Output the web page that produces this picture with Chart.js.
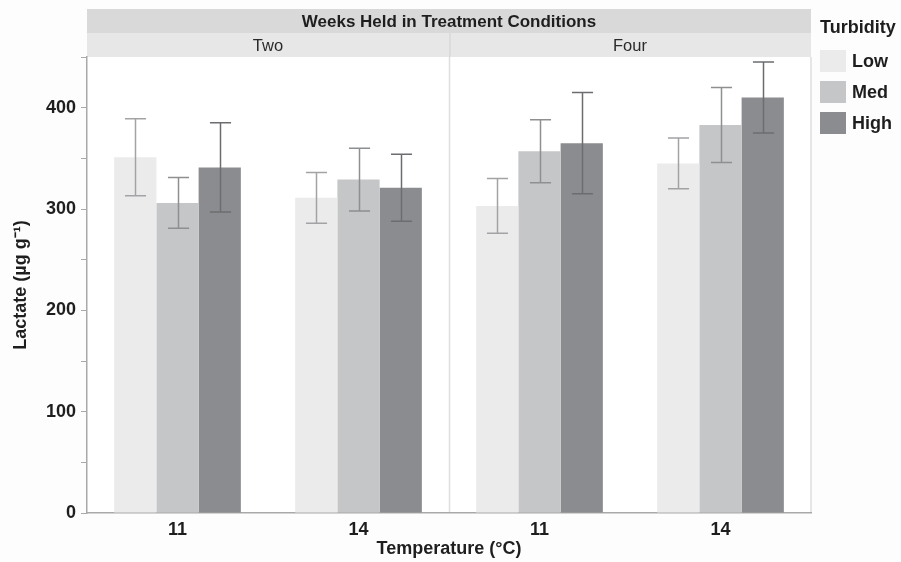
<!DOCTYPE html>
<html>
<head>
<meta charset="utf-8">
<script src="https://cdn.jsdelivr.net/npm/chart.js@4"></script>
<style>
  body { margin: 0; background: #fdfdfd; }
  canvas { display: block; }
</style>
</head>
<body>
<canvas id="chart" width="901" height="562"></canvas>
<script>
// temperature categories, two per facet
const categories = ["11", "14", "11", "14"];
const weeks = ["Two", "Four"];
const turbidity = ["Low", "Med", "High"];

const lowMean = [351, 311, 303, 345];
const lowErr = [38, 25, 27, 25];
const medMean = [306, 329, 357, 383];
const medErr = [25, 31, 31, 37];
const highMean = [341, 321, 365, 410];
const highErr = [44, 33, 50, 35];

const barColors = ["#ebebec", "#c5c6c8", "#8b8c8f"];
const errColors = ["#a3a3a5", "#8e8f91", "#6c6d70"];

const font = "'Liberation Sans', Arial, sans-serif";

const errs = [lowErr, medErr, highErr];

// strips on top, panel divider and legend
const facetPlugin = {
  id: "facets",
  beforeDraw(chart) {
    const { ctx, chartArea: a, scales } = chart;
    ctx.save();
    ctx.fillStyle = "#ffffff";
    ctx.fillRect(a.left, a.top, a.right - a.left, a.bottom - a.top);
    const mid = (scales.x.getPixelForValue(1) + scales.x.getPixelForValue(2)) / 2;

    // outer strip
    ctx.fillStyle = "#d9d9da";
    ctx.fillRect(a.left, a.top - 48, a.right - a.left, 24);
    ctx.fillStyle = "#1e1e1e";
    ctx.font = "bold 17px " + font;
    ctx.textAlign = "center";
    ctx.textBaseline = "middle";
    ctx.fillText("Weeks Held in Treatment Conditions", (a.left + a.right) / 2, a.top - 35);

    // inner strips
    ctx.fillStyle = "#e7e7e8";
    ctx.fillRect(a.left, a.top - 24, mid - a.left, 24);
    ctx.fillRect(mid + 2, a.top - 24, a.right - mid - 2, 24);
    ctx.fillStyle = "#dcdcdd";
    ctx.fillRect(mid, a.top - 24, 2, 24);
    ctx.fillStyle = "#2a2a2a";
    ctx.font = "16.5px " + font;
    ctx.fillText(weeks[0], (a.left + mid) / 2, a.top - 11);
    ctx.fillText(weeks[1], (mid + a.right) / 2, a.top - 11);

    // panel lines
    ctx.strokeStyle = "#dedede";
    ctx.lineWidth = 1.5;
    ctx.beginPath();
    ctx.moveTo(mid + 0.5, a.top);
    ctx.lineTo(mid + 0.5, a.bottom);
    ctx.moveTo(a.right, a.top);
    ctx.lineTo(a.right, a.bottom);
    ctx.stroke();

    // legend
    ctx.textAlign = "left";
    ctx.fillStyle = "#1e1e1e";
    ctx.font = "bold 18px " + font;
    ctx.fillText("Turbidity", a.right + 9, a.top - 29);
    turbidity.forEach((name, i) => {
      const y = a.top - 7 + i * 31;
      ctx.fillStyle = barColors[i];
      ctx.fillRect(a.right + 9, y, 26, 22);
      ctx.fillStyle = "#1e1e1e";
      ctx.fillText(name, a.right + 41, y + 12);
    });
    ctx.restore();
  },
  afterDatasetsDraw(chart) {
    const { ctx, scales } = chart;
    ctx.save();
    chart.data.datasets.forEach((ds, di) => {
      const meta = chart.getDatasetMeta(di);
      meta.data.forEach((bar, i) => {
        const hi = scales.y.getPixelForValue(ds.data[i] + errs[di][i]);
        const lo = scales.y.getPixelForValue(ds.data[i] - errs[di][i]);
        const cap = bar.width * 0.25;
        const x = Math.round(bar.x) + 0.5;
        ctx.strokeStyle = errColors[di];
        ctx.lineWidth = 1.5;
        ctx.beginPath();
        ctx.moveTo(x, hi);
        ctx.lineTo(x, lo);
        ctx.moveTo(x - cap, hi);
        ctx.lineTo(x + cap, hi);
        ctx.moveTo(x - cap, lo);
        ctx.lineTo(x + cap, lo);
        ctx.stroke();
      });
    });
    ctx.restore();
  }
};

new Chart(document.getElementById("chart"), {
  type: "bar",
  data: {
    labels: categories,
    datasets: [
      { label: turbidity[0], data: lowMean, backgroundColor: barColors[0] },
      { label: turbidity[1], data: medMean, backgroundColor: barColors[1] },
      { label: turbidity[2], data: highMean, backgroundColor: barColors[2] }
    ]
  },
  options: {
    responsive: false,
    animation: false,
    layout: { padding: { top: 57, right: 90, left: 0, bottom: 0 } },
    datasets: { bar: { categoryPercentage: 0.7, barPercentage: 1.0 } },
    plugins: { legend: { display: false }, tooltip: { enabled: false } },
    scales: {
      x: {
        grid: { display: false, drawTicks: false },
        border: { color: "#a9a9a9", width: 1.5 },
        ticks: { color: "#1e1e1e", padding: 6, font: { family: font, size: 18, weight: "bold" } },
        title: {
          display: true,
          text: "Temperature (°C)",
          color: "#1e1e1e",
          padding: { top: 0, bottom: 2 },
          font: { family: font, size: 18, weight: "bold" }
        },
        afterFit(s) { s.height = 49; }
      },
      y: {
        min: 0,
        max: 450,
        grid: { drawOnChartArea: false, drawTicks: true, tickLength: 6, color: "#a9a9a9" },
        border: { color: "#a9a9a9", width: 1.5 },
        ticks: {
          stepSize: 50,
          padding: 5,
          color: "#1e1e1e",
          font: { family: font, size: 18, weight: "bold" },
          callback: v => (v % 100 === 0 ? v : "")
        },
        title: {
          display: true,
          text: "Lactate (µg g⁻¹)",
          color: "#1e1e1e",
          padding: { top: 10, bottom: 0 },
          font: { family: font, size: 18, weight: "bold" }
        },
        afterFit(s) { s.width = 87; }
      }
    }
  },
  plugins: [facetPlugin]
});
</script>
</body>
</html>
